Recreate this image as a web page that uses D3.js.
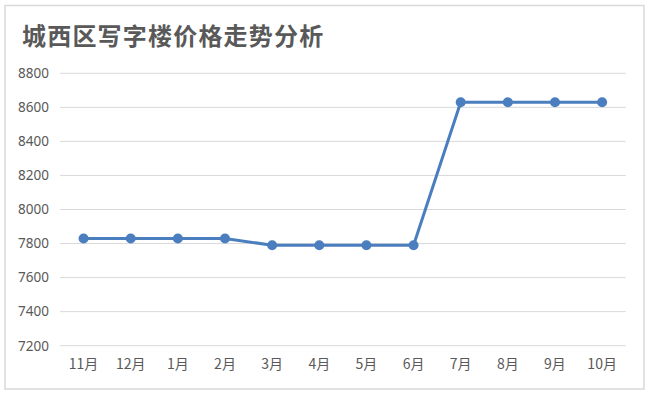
<!DOCTYPE html>
<html>
<head>
<meta charset="utf-8">
<script src="https://cdn.jsdelivr.net/npm/d3@7"></script>
<style>
  html, body { margin: 0; padding: 0; background: #fff; }
  svg { display: block; }
</style>
</head>
<body>
<script>
// data
const months = ["11月", "12月", "1月", "2月", "3月", "4月", "5月", "6月", "7月", "8月", "9月", "10月"];
const prices = [7830, 7830, 7830, 7830, 7790, 7790, 7790, 7790, 8630, 8630, 8630, 8630];
const yTicks = [7200, 7400, 7600, 7800, 8000, 8200, 8400, 8600, 8800];
const chartTitle = "城西区写字楼价格走势分析";

const w = 650;
const h = 396;
const lineColor = "#4a7ebf";
const textColor = "#595959";

const svg = d3.select("body")
              .append("svg")
              .attr("width", w)
              .attr("height", h);

// outer frame
svg.append("rect")
   .attr("x", 5)
   .attr("y", 5.5)
   .attr("width", 639)
   .attr("height", 383.5)
   .attr("fill", "#fff")
   .attr("stroke", "#d9d9d9")
   .attr("stroke-width", 1.5);

// title
svg.append("text")
   .attr("x", 22)
   .attr("y", 45)
   .attr("font-family", "'Noto Sans CJK SC', sans-serif")
   .attr("font-size", 24)
   .attr("font-weight", "bold")
   .attr("letter-spacing", 1.2)
   .attr("fill", textColor)
   .text(chartTitle);

// scales
const xScale = d3.scaleBand()
                 .domain(months)
                 .range([60, 625.7]);

const yScale = d3.scaleLinear()
                 .domain([7200, 8800])
                 .range([345.7, 73.3]);

// gridlines
svg.append("g")
   .selectAll("line")
   .data(yTicks)
   .enter()
   .append("line")
   .attr("x1", 60)
   .attr("x2", 625.7)
   .attr("y1", d => yScale(d))
   .attr("y2", d => yScale(d))
   .attr("stroke", "#d9d9d9")
   .attr("stroke-width", 1);

// y axis
const yAxis = d3.axisLeft(yScale)
                .tickValues(yTicks)
                .tickSize(0)
                .tickPadding(11)
                .tickFormat(d3.format("d"));

svg.append("g")
   .attr("transform", "translate(60,0)")
   .call(yAxis)
   .call(g => g.select(".domain").remove())
   .selectAll("text")
   .attr("font-family", "'Noto Sans', sans-serif")
   .attr("font-size", 13.5)
   .attr("fill", textColor);

// x axis
const xAxis = d3.axisBottom(xScale)
                .tickSize(0)
                .tickPadding(13);

svg.append("g")
   .attr("transform", "translate(0," + 345.7 + ")")
   .call(xAxis)
   .call(g => g.select(".domain").remove())
   .selectAll("text")
   .attr("font-family", "'Noto Sans CJK SC', sans-serif")
   .attr("font-size", 14)
   .attr("fill", textColor);

// line + markers
const cx = (d, i) => xScale(months[i]) + xScale.bandwidth() / 2;

const line = d3.line()
               .x(cx)
               .y(d => yScale(d));

svg.append("path")
   .datum(prices)
   .attr("d", line)
   .attr("fill", "none")
   .attr("stroke", lineColor)
   .attr("stroke-width", 3)
   .attr("stroke-linejoin", "round");

svg.append("g")
   .selectAll("circle")
   .data(prices)
   .enter()
   .append("circle")
   .attr("cx", cx)
   .attr("cy", d => yScale(d))
   .attr("r", 5)
   .attr("fill", lineColor);
</script>
</body>
</html>
